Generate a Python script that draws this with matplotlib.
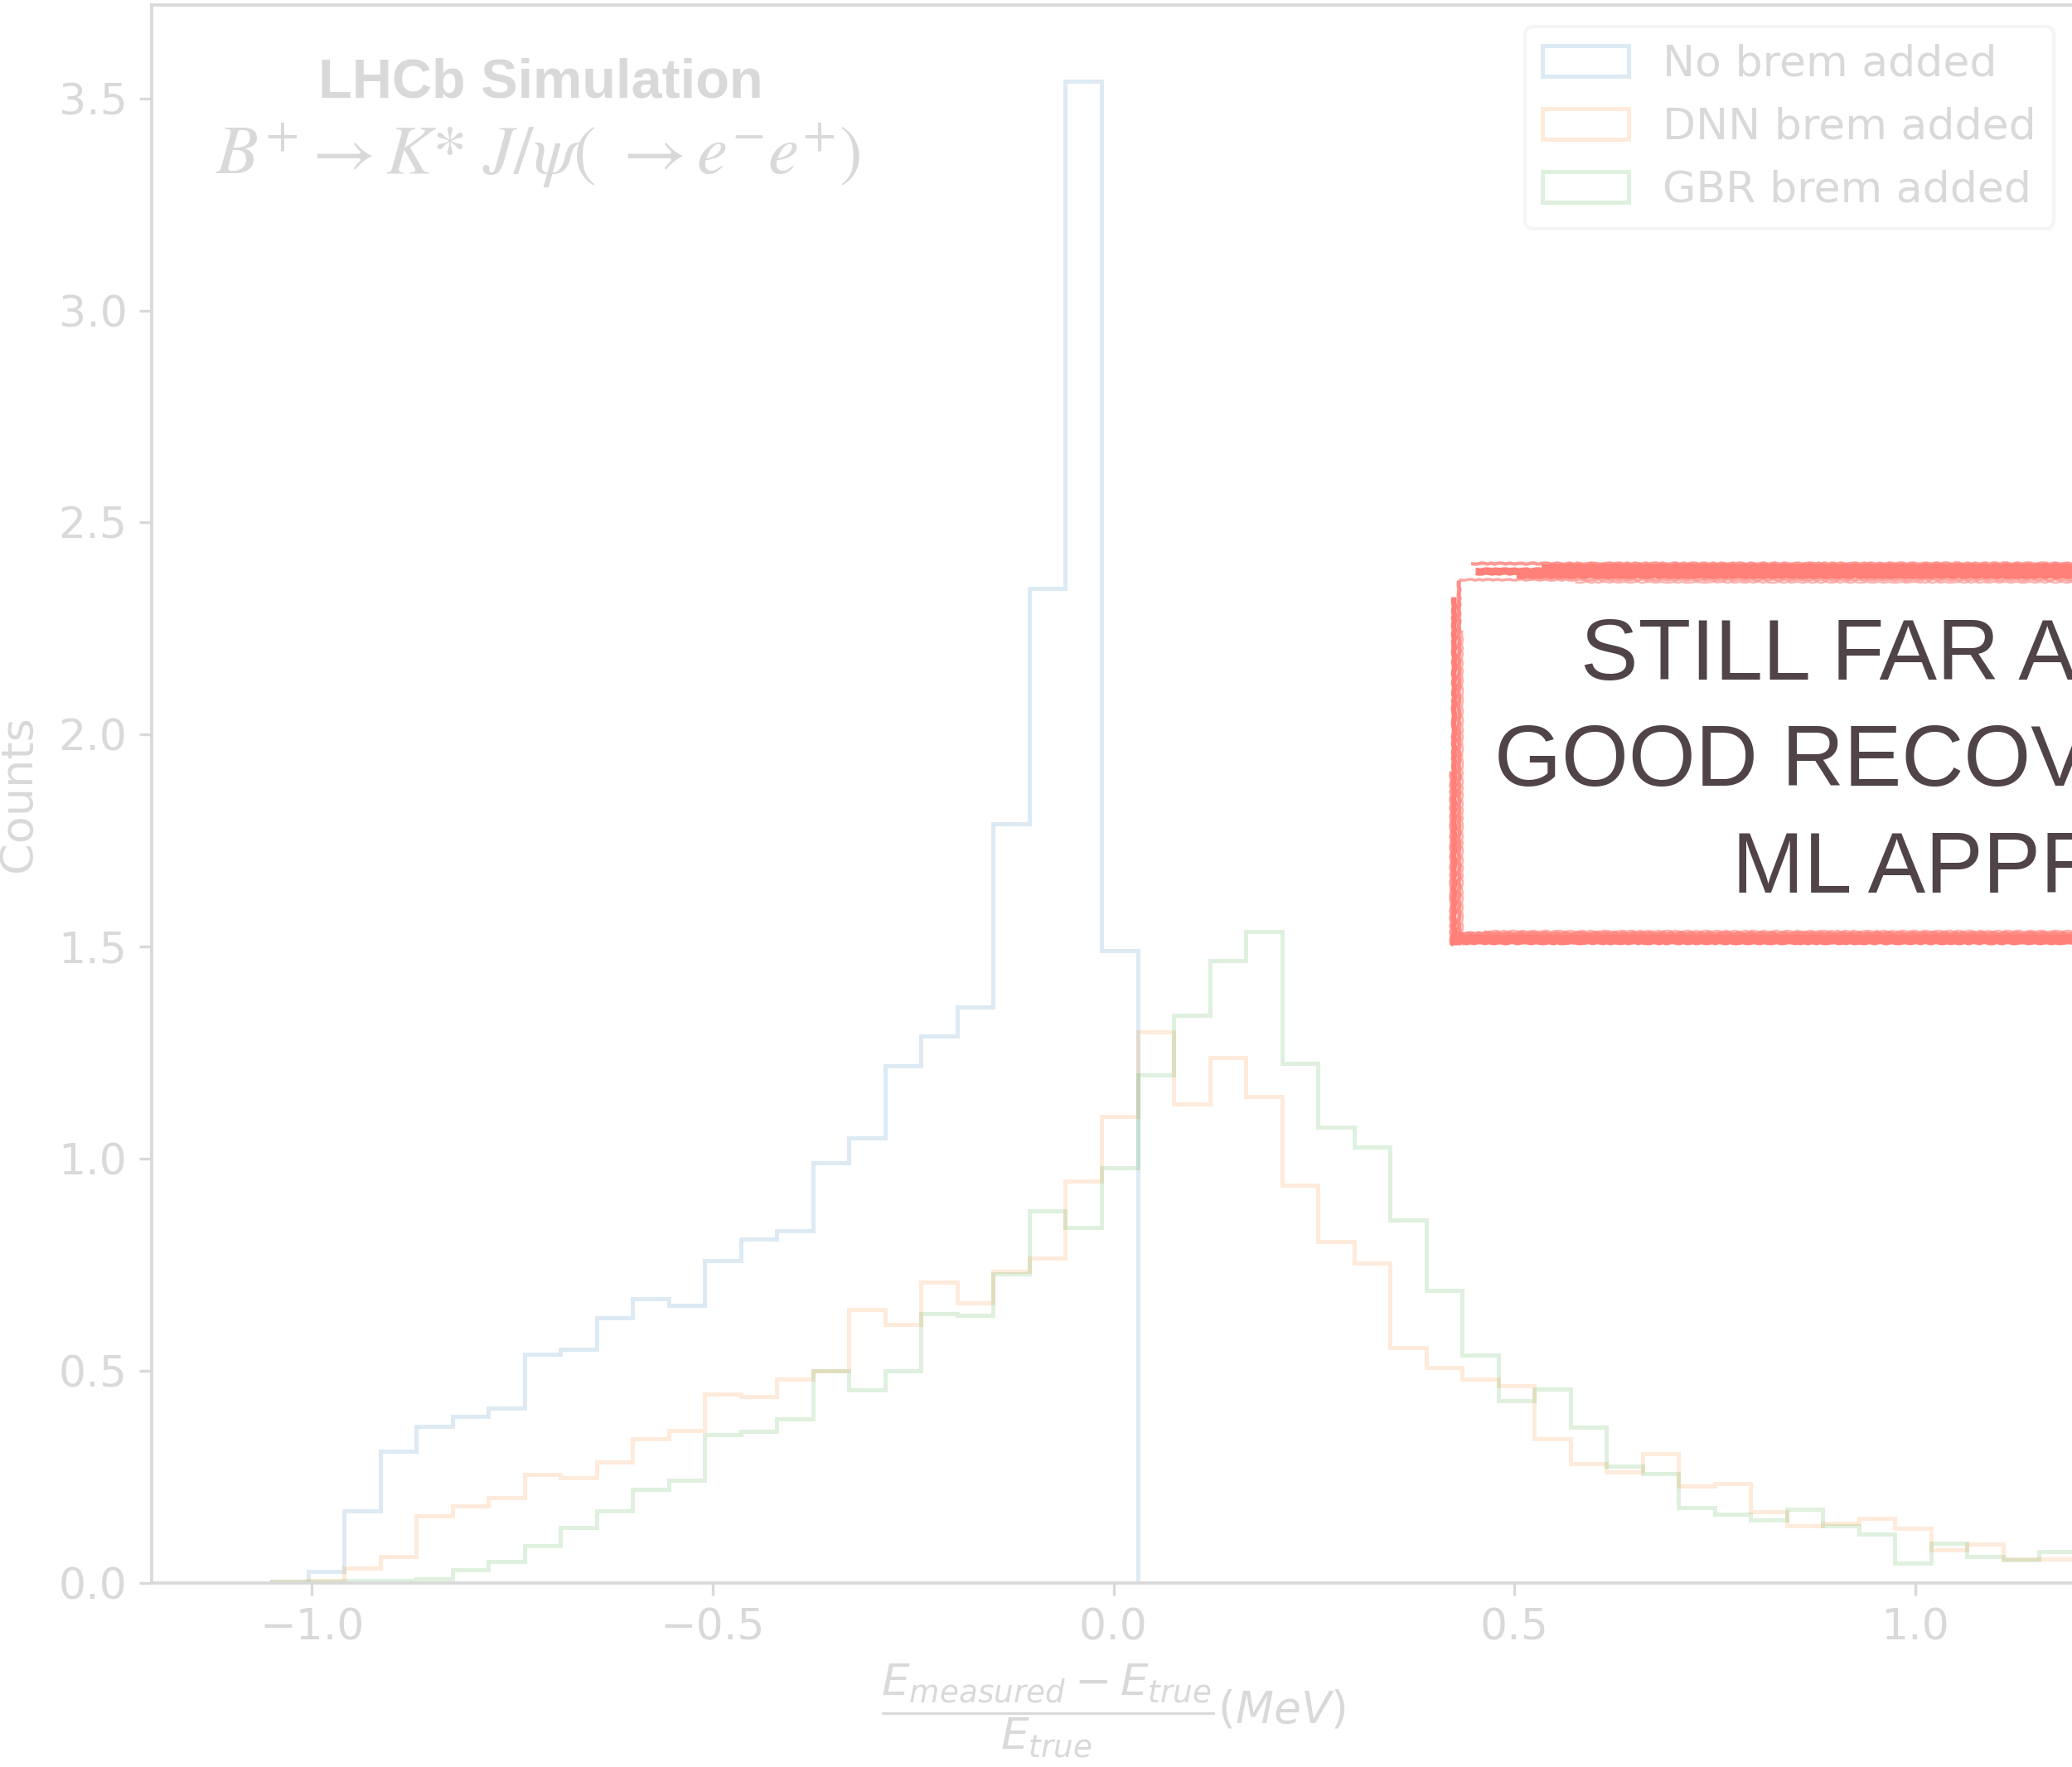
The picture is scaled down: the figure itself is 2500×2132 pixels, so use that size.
import numpy as np
import matplotlib
matplotlib.use("Agg")
import matplotlib.pyplot as plt
from matplotlib.lines import Line2D

# histogram binning (normalised counts per bin)
bin_edges = np.round(np.arange(-1.05, 1.2001, 0.045), 3)

no_brem = [0.0, 0.027, 0.170, 0.311, 0.369, 0.392, 0.413, 0.540, 0.550, 0.625,
           0.670, 0.655, 0.760, 0.810, 0.830, 0.990, 1.050, 1.220, 1.290, 1.358,
           1.790, 2.345, 3.540, 1.490] + [0.0] * 26
dnn_brem = [0.004, 0.005, 0.036, 0.063, 0.158, 0.182, 0.201, 0.256, 0.248, 0.285,
            0.340, 0.360, 0.445, 0.440, 0.480, 0.500, 0.645, 0.610, 0.710, 0.660,
            0.735, 0.765, 0.947, 1.100, 1.300, 1.129, 1.238, 1.147, 0.937, 0.804,
            0.754, 0.554, 0.508, 0.480, 0.465, 0.340, 0.281, 0.262, 0.305, 0.228,
            0.234, 0.168, 0.135, 0.140, 0.153, 0.129, 0.078, 0.092, 0.056, 0.056]
gbr_brem = [0.003, 0.004, 0.005, 0.005, 0.010, 0.031, 0.050, 0.087, 0.131, 0.170,
            0.220, 0.243, 0.350, 0.358, 0.386, 0.500, 0.455, 0.500, 0.635, 0.632,
            0.729, 0.877, 0.838, 0.979, 1.197, 1.339, 1.468, 1.535, 1.225, 1.074,
            1.028, 0.856, 0.690, 0.537, 0.430, 0.457, 0.368, 0.275, 0.257, 0.177,
            0.162, 0.149, 0.173, 0.135, 0.116, 0.047, 0.094, 0.062, 0.054, 0.074]

series = [no_brem, dnn_brem, gbr_brem]
labels = ["No brem added", "DNN brem added", "GBR brem added"]
colors = ["tab:blue", "tab:orange", "tab:green"]

note_lines = ["STILL FAR AWAY FROM", "GOOD RECOVERY WITH", "ML APPROACH"]

faded = "#d9d9d9"
box_color = "#ff8078"
note_color = "#504448"

plt.rcParams['font.family'] = ['DejaVu Sans']
W, H, DPI = 2500, 2132, 300
fig = plt.figure(figsize=(W / DPI, H / DPI), dpi=DPI)
ax = fig.add_axes([183 / W, 1 - 1910 / H, 2321 / W, 1904 / H])

for vals, lab, col in zip(series, labels, colors):
    ax.hist(bin_edges[:-1], bins=bin_edges, weights=vals, histtype="step",
            color=col, alpha=0.15, lw=1.2, label=lab)

ax.set_xlim(-1.2, 1.2)
ax.set_ylim(0, 3.72)
for s in ax.spines.values():
    s.set_color(faded)
    s.set_linewidth(0.9)
ax.tick_params(colors=faded, labelsize=12.5, length=3.6, width=0.8)
ax.set_ylabel("Counts", color=faded, fontsize=13, labelpad=5.5)
ax.set_xlabel(r"$\dfrac{E_{measured}-E_{true}}{E_{true}} (MeV)$", color=faded, fontsize=12.8)

leg = ax.legend(loc="upper right", fontsize=12.5, labelcolor=faded)
leg.get_frame().set_edgecolor("#f3f3f3")
leg.get_frame().set_linewidth(1.0)

# LHCb label
fig.text(384 / W, 1 - 117 / H, "LHCb Simulation", color=faded, fontsize=16,
         fontweight="bold", family="Liberation Sans", va="baseline")
fig.text(260 / W, 1 - 210 / H, r"$B^{+} \rightarrow K{*}\ J/\psi(\ \rightarrow e^{-}e^{+})$",
         color=faded, fontsize=20, math_fontfamily="stix", va="baseline")


# hand drawn red box on top of the plot
def brush(xs, ys, lw, alpha=1.0, sketch=(0.6, 18, 4)):
    ln = Line2D([x / W for x in xs], [1 - y / H for y in ys], transform=fig.transFigure,
                color=box_color, lw=lw, alpha=alpha, solid_capstyle="butt")
    ln.set_sketch_params(*sketch)
    fig.add_artist(ln)


# top band
for x0, y, lw, a in [(1775, 680, 1.0, 0.8), (1860, 684, 1.8, 1.0), (1780, 689, 2.2, 1.0),
                     (1830, 694, 2.0, 1.0), (1760, 699, 0.8, 0.7), (1900, 702, 0.6, 0.6)]:
    brush([x0, 2700], [y, y], lw, a)
# bottom band
for x0, y, lw, a in [(1790, 1123, 0.6, 0.6), (1760, 1127, 1.4, 0.9), (1750, 1132, 2.0, 1.0),
                     (1750, 1137, 1.4, 1.0)]:
    brush([x0, 2700], [y, y], lw, a)
# left band
for x, y0, lw, a in [(1750, 930, 0.8, 0.8), (1754, 720, 1.6, 1.0), (1760, 700, 1.2, 0.9),
                     (1764, 760, 0.6, 0.6)]:
    brush([x, x], [y0, 1140], lw, a, sketch=(0.5, 15, 4))

for txt, x, y in zip(note_lines, [1907, 1803, 2090], [820, 948, 1077]):
    fig.text(x / W, 1 - y / H, txt, color=note_color, fontsize=25,
             family="Liberation Sans", va="baseline", ha="left")

fig.savefig("out.png", dpi=DPI)
